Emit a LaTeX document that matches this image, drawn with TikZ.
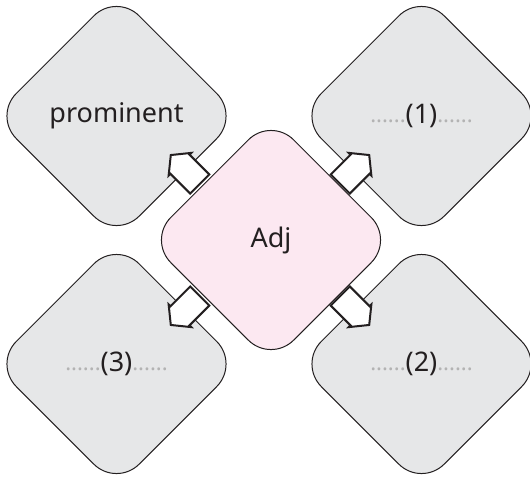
\documentclass[tikz,border=0pt]{standalone}
\usepackage{fontspec}
\setmainfont{Noto Sans}
\usetikzlibrary{shapes.geometric,shapes.arrows,calc}
\definecolor{boxgray}{HTML}{E6E7E8}
\definecolor{boxpink}{HTML}{FCE8F1}
\definecolor{inkline}{HTML}{231F20}
\definecolor{dotgray}{HTML}{B3B3B3}
\newcommand{\dotrun}{{\color{dotgray}\fontsize{22}{22}\selectfont\raisebox{1.5pt}{......}}}
\tikzset{
  rdiam/.style={diamond, aspect=1, minimum width=246pt, minimum height=246pt,
    inner sep=0pt, draw=inkline, line width=1pt, rounded corners=32pt,
    text=inkline, font=\fontsize{27}{30}\selectfont},
  graybox/.style={rdiam, fill=boxgray},
  pinkbox/.style={rdiam, fill=boxpink},
  blockarrow/.style={single arrow, draw=inkline, fill=white, line width=2pt,
    minimum height=41pt, inner xsep=0pt, inner ysep=12.5pt,
    single arrow head extend=2.5pt, single arrow tip angle=102, sharp corners}
}
\begin{document}
\begin{tikzpicture}[x=1pt,y=-1pt]
\useasboundingbox (0,0) rectangle (530,477);
\node[graybox] (tl) at (116.5,116) {prominent};
\node[graybox] (tr) at (421.5,116) {\dotrun(1)\dotrun};
\node[graybox] (bl) at (116.5,364) {\dotrun(3)\dotrun};
\node[graybox] (br) at (421.5,364) {\dotrun(2)\dotrun};
\node[pinkbox] (adj) at (271,240) {Adj};
\node[blockarrow, rotate=135] (atl) at ($(adj)!0.5!(tl)+(-4.6,-4.6)$) {};
\node[blockarrow, rotate=45] (atr) at ($(adj)!0.5!(tr)+(4.6,-4.6)$) {};
\node[blockarrow, rotate=225] (abl) at ($(adj)!0.5!(bl)+(-4.6,4.6)$) {};
\node[blockarrow, rotate=-45] (abr) at ($(adj)!0.5!(br)+(4.6,4.6)$) {};
\end{tikzpicture}
\end{document}
